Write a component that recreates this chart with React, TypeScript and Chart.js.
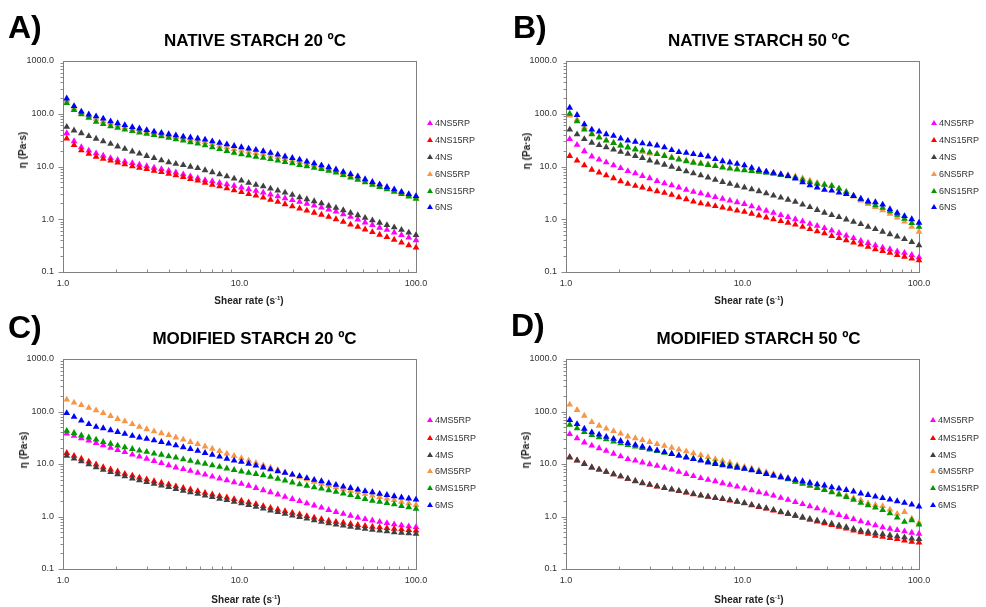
import React, { useEffect, useRef } from 'react';
import { Chart, registerables } from 'chart.js';

Chart.register(...registerables);

// Shear rate grid (s^-1), shared by all series
const SHEAR_RATE = [1.05, 1.155, 1.27, 1.40, 1.54, 1.69, 1.86, 2.04, 2.24, 2.47, 2.71, 2.98, 3.28, 3.61, 3.97, 4.36, 4.80, 5.27, 5.80, 6.38, 7.01, 7.71, 8.48, 9.32, 10.25, 11.27, 12.39, 13.63, 14.98, 16.48, 18.11, 19.92, 21.90, 24.08, 26.49, 29.12, 32.02, 35.21, 38.72, 42.57, 46.81, 51.47, 56.60, 62.23, 68.43, 75.25, 82.74, 90.98, 100];

// A) Native starch 20 ºC
const A_4NS5RP = [42.7, 30.2, 23.2, 20, 17.8, 16, 14.4, 13.3, 12.4, 11.6, 10.8, 10.1, 9.5, 8.9, 8.3, 7.7, 7.1, 6.5, 6.0, 5.5, 5.25, 4.9, 4.6, 4.3, 4.0, 3.7, 3.45, 3.2, 2.95, 2.72, 2.5, 2.3, 2.14, 1.97, 1.82, 1.66, 1.53, 1.40, 1.24, 1.11, 0.99, 0.87, 0.78, 0.69, 0.63, 0.56, 0.50, 0.45, 0.40];
const A_4NS15RP = [34, 25.4, 20.2, 17.4, 15.3, 14, 12.9, 11.9, 11.0, 10.1, 9.4, 8.9, 8.3, 7.85, 7.3, 6.8, 6.3, 5.8, 5.4, 4.9, 4.5, 4.2, 3.85, 3.55, 3.27, 3.0, 2.8, 2.57, 2.34, 2.14, 1.93, 1.76, 1.6, 1.46, 1.33, 1.22, 1.11, 1.0, 0.89, 0.79, 0.72, 0.64, 0.57, 0.51, 0.46, 0.41, 0.36, 0.32, 0.29];
const A_4NS = [56.6, 48.2, 42.7, 37.7, 33.6, 30, 26.9, 24, 21.6, 19.3, 17.6, 15.8, 14.4, 13.1, 12.0, 11.2, 10.6, 9.9, 9.3, 8.5, 7.8, 7.1, 6.5, 5.9, 5.4, 4.9, 4.5, 4.2, 3.8, 3.5, 3.2, 2.9, 2.6, 2.4, 2.2, 2.0, 1.8, 1.65, 1.48, 1.32, 1.19, 1.06, 0.955, 0.86, 0.775, 0.70, 0.63, 0.56, 0.50];
const A_6NS5RP = [177, 129, 104, 90, 80, 72, 65, 60, 55.5, 51.5, 48, 45.3, 42.7, 40.3, 38, 36, 34, 32.2, 30.6, 28.8, 26.6, 24.7, 23, 21.4, 20.1, 19.1, 18, 17, 16, 14.9, 13.9, 13, 12.1, 11.3, 10.5, 9.7, 9.0, 8.3, 7.4, 6.7, 6.05, 5.4, 4.8, 4.35, 3.9, 3.5, 3.15, 2.85, 2.6];
const A_6NS15RP = [160, 118, 98, 84, 70, 64, 58, 54, 50, 47, 44, 41.7, 39.4, 37.2, 35, 32.7, 30.9, 28.8, 27.2, 25.1, 23.2, 21.4, 19.7, 18.2, 17.0, 16.2, 15.3, 14.6, 13.8, 12.9, 12.2, 11.5, 10.7, 10.1, 9.4, 8.9, 8.3, 7.7, 6.9, 6.2, 5.6, 5.0, 4.5, 4.1, 3.7, 3.3, 3.0, 2.7, 2.45];
const A_6NS = [195, 140, 110, 97, 89, 81, 72, 66, 61, 56, 52.5, 49, 46, 43.5, 41, 39, 37, 35.5, 34, 32.4, 30, 28, 26.3, 24.5, 23.2, 21.9, 20.7, 19.5, 18.2, 16.8, 15.5, 14.5, 13.5, 12.4, 11.5, 10.5, 9.7, 8.8, 7.9, 7.2, 6.5, 5.75, 5.1, 4.6, 4.1, 3.7, 3.3, 3.0, 2.75];

// B) Native starch 50 ºC
const B_4NS5RP = [33, 25.7, 19.5, 15.5, 13.5, 12, 10.5, 9.3, 8.2, 7.4, 6.6, 6.0, 5.3, 4.8, 4.4, 4.0, 3.6, 3.3, 3.1, 2.85, 2.63, 2.45, 2.26, 2.1, 1.95, 1.76, 1.6, 1.45, 1.32, 1.2, 1.1, 1.0, 0.91, 0.82, 0.75, 0.68, 0.61, 0.55, 0.49, 0.44, 0.39, 0.355, 0.32, 0.29, 0.27, 0.245, 0.23, 0.21, 0.19];
const B_4NS15RP = [15.8, 12.9, 10.5, 8.7, 7.7, 6.8, 6.0, 5.25, 4.7, 4.3, 4.0, 3.7, 3.4, 3.16, 2.9, 2.6, 2.4, 2.16, 2.0, 1.9, 1.78, 1.66, 1.57, 1.46, 1.38, 1.27, 1.17, 1.08, 1.0, 0.92, 0.86, 0.79, 0.72, 0.65, 0.59, 0.54, 0.48, 0.44, 0.40, 0.36, 0.33, 0.30, 0.27, 0.25, 0.23, 0.21, 0.195, 0.18, 0.166];
const B_4NS = [50, 40.7, 33, 28.2, 25.4, 23.2, 20.9, 19, 17.4, 15.8, 14.5, 13, 11.9, 10.8, 9.9, 8.9, 8.1, 7.4, 6.8, 6.2, 5.6, 5.1, 4.7, 4.3, 4.0, 3.7, 3.4, 3.1, 2.8, 2.57, 2.34, 2.14, 1.9, 1.7, 1.5, 1.33, 1.2, 1.1, 0.99, 0.89, 0.81, 0.72, 0.65, 0.58, 0.52, 0.47, 0.42, 0.37, 0.32];
const B_6NS5RP = [92, 78, 55, 42, 36, 31.5, 28, 24.5, 22.5, 20.5, 19, 17.6, 17.5, 16.2, 15, 14, 13, 12.2, 11.6, 11, 10.4, 9.8, 9.3, 8.9, 8.6, 8.4, 8.2, 8.0, 7.6, 7.2, 6.9, 6.5, 6.0, 5.4, 4.9, 4.6, 4.3, 3.8, 3.25, 2.7, 2.25, 1.95, 1.7, 1.48, 1.27, 1.08, 0.9, 0.72, 0.58];
const B_6NS15RP = [100, 72, 50, 41, 35.5, 31, 27.9, 25.1, 23.2, 21.4, 20, 18.6, 17.2, 15.8, 14.6, 13.5, 12.6, 11.7, 11.2, 10.7, 10.2, 9.55, 9.1, 8.8, 8.5, 8.2, 7.95, 7.6, 7.25, 6.9, 6.5, 6.2, 5.6, 5.0, 4.7, 4.5, 4.3, 3.8, 3.3, 2.8, 2.4, 2.1, 1.84, 1.64, 1.41, 1.22, 1.02, 0.85, 0.72];
const B_6NS = [130, 95, 63, 50, 46, 41, 38, 34, 31, 29.5, 27.5, 26.3, 25, 23, 20.4, 18.8, 18.2, 17.2, 16.4, 15.5, 13.8, 12.6, 11.9, 11.2, 10.5, 9.4, 8.6, 8.0, 7.6, 7.1, 6.6, 5.9, 5.0, 4.4, 4.0, 3.6, 3.5, 3.2, 3.0, 2.75, 2.45, 2.2, 2.1, 1.9, 1.55, 1.32, 1.15, 1.0, 0.86];

// C) Modified starch 20 ºC
const C_4MS5RP = [38, 34.3, 31, 27.9, 25.1, 22.6, 20.4, 18.4, 16.8, 15.1, 13.8, 12.6, 11.4, 10.4, 9.4, 8.6, 8.0, 7.4, 6.8, 6.3, 5.75, 5.3, 4.9, 4.5, 4.2, 3.85, 3.5, 3.16, 2.9, 2.63, 2.37, 2.16, 1.97, 1.78, 1.62, 1.48, 1.33, 1.22, 1.12, 1.035, 0.955, 0.89, 0.84, 0.79, 0.75, 0.71, 0.68, 0.65, 0.63];
const C_4MS15RP = [16.2, 14.3, 12.6, 11.1, 9.8, 8.7, 7.85, 7.2, 6.5, 6.0, 5.5, 5.1, 4.7, 4.4, 4.1, 3.75, 3.5, 3.27, 3.05, 2.82, 2.63, 2.45, 2.3, 2.14, 2.0, 1.86, 1.72, 1.58, 1.46, 1.36, 1.26, 1.17, 1.1, 1.02, 0.955, 0.89, 0.83, 0.79, 0.76, 0.72, 0.69, 0.66, 0.64, 0.62, 0.6, 0.58, 0.57, 0.55, 0.54];
const C_4MS = [14.4, 12.7, 11.2, 9.9, 8.7, 7.75, 7.0, 6.4, 5.8, 5.3, 4.9, 4.55, 4.2, 3.9, 3.65, 3.35, 3.1, 2.9, 2.7, 2.5, 2.34, 2.18, 2.05, 1.9, 1.78, 1.66, 1.53, 1.41, 1.3, 1.21, 1.12, 1.04, 0.98, 0.91, 0.85, 0.79, 0.74, 0.70, 0.67, 0.64, 0.61, 0.58, 0.56, 0.54, 0.52, 0.50, 0.49, 0.48, 0.47];
const C_6MS5RP = [168, 148, 132, 117, 105, 93, 82, 72, 65, 57.5, 51, 46, 42, 38.5, 35.5, 32, 29.2, 26.3, 24, 21.6, 19.5, 17.6, 15.8, 14.3, 12.9, 11.6, 10.5, 9.4, 8.5, 7.7, 6.9, 6.2, 5.6, 5.1, 4.6, 4.2, 3.9, 3.6, 3.3, 3.1, 2.9, 2.7, 2.5, 2.35, 2.2, 2.05, 1.9, 1.78, 1.66];
const C_6MS15RP = [42.7, 39, 35, 32, 29.2, 26.3, 24.3, 22.4, 20.7, 19.3, 18, 17, 15.8, 15, 14, 13.2, 12.3, 11.5, 10.7, 10.1, 9.4, 8.8, 8.2, 7.7, 7.2, 6.8, 6.45, 6.1, 5.7, 5.25, 4.85, 4.45, 4.1, 3.85, 3.6, 3.4, 3.16, 2.95, 2.75, 2.55, 2.35, 2.16, 2.0, 1.9, 1.8, 1.7, 1.58, 1.5, 1.4];
const C_6MS = [93, 79, 67, 57.5, 51, 48, 44, 40.7, 37.6, 34.3, 32, 30.2, 28.2, 26.3, 24.5, 22.6, 20.9, 19.3, 17.8, 16.2, 15, 13.8, 12.6, 11.6, 11, 10.1, 9.3, 8.6, 7.9, 7.3, 6.8, 6.3, 5.9, 5.4, 5.0, 4.7, 4.3, 4.0, 3.7, 3.5, 3.25, 3.05, 2.9, 2.7, 2.57, 2.43, 2.3, 2.2, 2.1];

// D) Modified starch 50 ºC
const D_4MS5RP = [37, 31, 25.7, 22.4, 20, 17.8, 15.7, 14, 12.4, 11.6, 10.7, 9.9, 9.2, 8.5, 7.8, 7.1, 6.45, 5.9, 5.4, 5.0, 4.7, 4.3, 4.0, 3.7, 3.4, 3.16, 2.9, 2.7, 2.5, 2.26, 2.07, 1.88, 1.72, 1.57, 1.43, 1.3, 1.17, 1.07, 0.98, 0.89, 0.81, 0.74, 0.68, 0.62, 0.58, 0.55, 0.52, 0.49, 0.47];
const D_4MS15RP = [13.5, 11.7, 10.1, 8.6, 7.8, 7.1, 6.4, 5.8, 5.25, 4.7, 4.3, 4.0, 3.7, 3.5, 3.27, 3.05, 2.85, 2.66, 2.5, 2.37, 2.24, 2.14, 2.02, 1.9, 1.78, 1.64, 1.51, 1.41, 1.3, 1.2, 1.11, 1.02, 0.94, 0.87, 0.80, 0.74, 0.69, 0.64, 0.59, 0.54, 0.50, 0.47, 0.43, 0.41, 0.39, 0.37, 0.35, 0.33, 0.32];
const D_4MS = [13.3, 11.6, 10.0, 8.6, 7.8, 7.1, 6.4, 5.8, 5.25, 4.75, 4.35, 4.05, 3.75, 3.5, 3.3, 3.08, 2.88, 2.69, 2.53, 2.4, 2.27, 2.17, 2.05, 1.93, 1.81, 1.67, 1.54, 1.44, 1.33, 1.23, 1.14, 1.05, 0.97, 0.9, 0.84, 0.78, 0.73, 0.68, 0.63, 0.58, 0.54, 0.51, 0.48, 0.46, 0.44, 0.42, 0.4, 0.38, 0.37];
const D_6MS5RP = [135, 107, 83, 63, 53.7, 47.3, 42.2, 38, 33.5, 31, 28.5, 26.3, 24, 22.1, 20.4, 18.8, 17.4, 16, 14.8, 13.5, 12.4, 11.5, 10.6, 9.55, 8.8, 8.2, 7.6, 7.0, 6.45, 5.95, 5.45, 4.9, 4.4, 4.0, 3.6, 3.3, 3.0, 2.7, 2.5, 2.24, 2.05, 1.78, 1.66, 1.58, 1.35, 1.12, 1.22, 0.91, 0.76];
const D_6MS15RP = [56, 48, 40.7, 35.5, 32.4, 29.5, 26.9, 24.8, 22.9, 21.4, 20.2, 18.8, 17.6, 16.4, 15.5, 14.5, 13.5, 12.6, 11.9, 11.2, 10.6, 10, 9.4, 8.9, 8.2, 7.7, 7.1, 6.5, 6.0, 5.55, 5.1, 4.6, 4.2, 3.85, 3.5, 3.2, 2.9, 2.63, 2.34, 2.07, 1.82, 1.64, 1.48, 1.32, 1.15, 0.95, 0.79, 0.85, 0.7];
const D_6MS = [69, 57.5, 47, 40, 36.3, 33, 30.2, 27.5, 25.1, 23.2, 21.4, 19.7, 18.2, 16.8, 15.5, 14.5, 13.3, 12.4, 11.6, 10.7, 10, 9.4, 8.9, 8.5, 8.1, 7.6, 7.0, 6.45, 6.0, 5.6, 5.3, 5.0, 4.7, 4.4, 4.1, 3.9, 3.6, 3.4, 3.2, 3.0, 2.75, 2.57, 2.4, 2.24, 2.1, 1.95, 1.82, 1.68, 1.55];

const NATIVE_LABELS = ['4NS5RP', '4NS15RP', '4NS', '6NS5RP', '6NS15RP', '6NS'];
const MODIFIED_LABELS = ['4MS5RP', '4MS15RP', '4MS', '6MS5RP', '6MS15RP', '6MS'];
const SERIES_COLORS = ['#FF00FF', '#FF0000', '#404040', '#F79646', '#009A00', '#0000FF'];
const Y_TICK_VALUES = [0.1, 1, 10, 100, 1000];
const X_TICK_VALUES = [1, 10, 100];

const FONT = "'Liberation Sans', Arial, Helvetica, sans-serif";

const frameTicksPlugin = {
  id: 'frameTicks',
  beforeDatasetsDraw(chart: any) {
    const { ctx, chartArea: a, scales } = chart;
    const L = Math.round(a.left) + 0.5;
    const R = Math.round(a.right) + 0.5;
    const T = Math.round(a.top) + 0.5;
    const B = Math.round(a.bottom) + 0.5;
    ctx.save();
    ctx.strokeStyle = '#8a8a8a';
    ctx.lineWidth = 1;
    ctx.beginPath();
    for (let e = -1; e <= 2; e++) {
      for (let m = 1; m <= 9; m++) {
        const v = m * Math.pow(10, e);
        const py = Math.round(scales.y.getPixelForValue(v)) + 0.5;
        const len = m === 1 ? 5 : 3;
        ctx.moveTo(L - len, py);
        ctx.lineTo(L, py);
      }
    }
    for (let e = 0; e <= 1; e++) {
      for (let m = 2; m <= 9; m++) {
        const v = m * Math.pow(10, e);
        const px = Math.round(scales.x.getPixelForValue(v)) + 0.5;
        ctx.moveTo(px, B);
        ctx.lineTo(px, B - 3);
      }
    }
    ctx.stroke();
    ctx.strokeStyle = '#808080';
    ctx.strokeRect(L, T, R - L, B - T);
    ctx.restore();
  },
};

type PanelProps = {
  left: number;
  top: number;
  width: number;
  height: number;
  area: { l: number; t: number; r: number; b: number };
  series: number[][];
  labels: string[];
  letter: string;
  letterPos: [number, number];
  title: string;
  titlePos: [number, number];
  yTitlePos: [number, number];
  xTitlePos: [number, number];
  legendX: number;
  legendRows: number[];
};

function Panel(p: PanelProps) {
  const ref = useRef<HTMLCanvasElement | null>(null);
  useEffect(() => {
    if (!ref.current) return;
    const tickFont = { family: FONT, size: 9 };
    const chart = new Chart(ref.current, {
      type: 'scatter',
      data: {
        datasets: p.labels.map((label, i) => ({
          label,
          data: SHEAR_RATE.map((x, j) => ({ x, y: p.series[i][j] })),
          backgroundColor: SERIES_COLORS[i],
          borderColor: SERIES_COLORS[i],
          pointStyle: 'triangle',
          pointRadius: 3.9,
          pointBorderWidth: 0,
          showLine: false,
          order: p.labels.length - 1 - i,
          clip: false,
        })),
      },
      options: {
        responsive: false,
        animation: false,
        events: [],
        layout: { padding: { left: 0, top: p.area.t, right: p.width - p.area.r, bottom: 0 } },
        plugins: { legend: { display: false }, tooltip: { enabled: false }, title: { display: false } },
        scales: {
          x: {
            type: 'logarithmic',
            min: 1,
            max: 100,
            grid: { display: false, drawTicks: false },
            border: { display: false },
            afterBuildTicks: (s: any) => {
              s.ticks = X_TICK_VALUES.map((v) => ({ value: v }));
            },
            afterFit: (s: any) => {
              s.height = p.height - p.area.b;
            },
            ticks: {
              autoSkip: false,
              maxRotation: 0,
              padding: 6,
              color: '#333',
              font: tickFont,
              callback: (v: any) => Number(v).toFixed(1),
            },
          },
          y: {
            type: 'logarithmic',
            min: 0.1,
            max: 1000,
            grid: { display: false, drawTicks: false },
            border: { display: false },
            afterBuildTicks: (s: any) => {
              s.ticks = Y_TICK_VALUES.map((v) => ({ value: v }));
            },
            afterFit: (s: any) => {
              s.width = p.area.l;
            },
            ticks: {
              autoSkip: false,
              padding: 9,
              color: '#333',
              font: tickFont,
              callback: (v: any) => Number(v).toFixed(1),
            },
          },
        },
      } as any,
      plugins: [frameTicksPlugin],
    });
    return () => chart.destroy();
  }, []);

  const abs: React.CSSProperties = { position: 'absolute', whiteSpace: 'nowrap', fontFamily: FONT };
  return (
    <>
      <canvas
        ref={ref}
        width={p.width}
        height={p.height}
        style={{ position: 'absolute', left: p.left, top: p.top, width: p.width, height: p.height }}
      />
      <div style={{ ...abs, left: p.letterPos[0], top: p.letterPos[1], fontSize: 32, lineHeight: '32px', fontWeight: 700, color: '#000' }}>
        {p.letter}
      </div>
      <div style={{ ...abs, left: p.titlePos[0], top: p.titlePos[1], transform: 'translateX(-50%)', fontSize: 17, lineHeight: '17px', fontWeight: 700, color: '#000' }}>
        {p.title}
      </div>
      <div style={{ ...abs, left: p.yTitlePos[0], top: p.yTitlePos[1], transform: 'translate(-50%, -50%) rotate(-90deg)', fontSize: 10, lineHeight: '12px', fontWeight: 700, color: '#222' }}>
        η (Pa·s)
      </div>
      <div style={{ ...abs, left: p.xTitlePos[0], top: p.xTitlePos[1], transform: 'translate(-50%, -50%)', fontSize: 10, lineHeight: '12px', fontWeight: 700, color: '#222' }}>
        Shear rate (s<sup style={{ fontSize: 6, lineHeight: 0 }}>-1</sup>)
      </div>
      {p.labels.map((label, i) => (
        <React.Fragment key={label}>
          <div
            style={{
              position: 'absolute',
              left: p.legendX - 3,
              top: p.legendRows[i] - 3,
              width: 0,
              height: 0,
              borderLeft: '3px solid transparent',
              borderRight: '3px solid transparent',
              borderBottom: `5px solid ${SERIES_COLORS[i]}`,
            }}
          />
          <div style={{ ...abs, left: p.legendX + 5, top: p.legendRows[i] - 6, fontSize: 9, lineHeight: '12px', color: '#333' }}>
            {label}
          </div>
        </React.Fragment>
      ))}
    </>
  );
}

const ROWS_TOP = [123, 140, 157, 174, 190.5, 207];
const ROWS_BOTTOM = [420, 437.5, 454.5, 471, 487.5, 505];

export default function App() {
  return (
    <div style={{ position: 'absolute', left: 0, top: 0, width: 986, height: 607, background: '#fff', overflow: 'hidden' }}>
      <Panel
        left={0} top={0} width={493} height={303}
        area={{ l: 63, t: 61, r: 416, b: 272 }}
        series={[A_4NS5RP, A_4NS15RP, A_4NS, A_6NS5RP, A_6NS15RP, A_6NS]}
        labels={NATIVE_LABELS}
        letter="A)" letterPos={[8, 11]}
        title="NATIVE STARCH 20 ºC" titlePos={[255, 32]}
        yTitlePos={[23, 150]} xTitlePos={[249, 301]}
        legendX={430} legendRows={ROWS_TOP}
      />
      <Panel
        left={493} top={0} width={493} height={303}
        area={{ l: 73, t: 61, r: 426, b: 272 }}
        series={[B_4NS5RP, B_4NS15RP, B_4NS, B_6NS5RP, B_6NS15RP, B_6NS]}
        labels={NATIVE_LABELS}
        letter="B)" letterPos={[513, 11]}
        title="NATIVE STARCH 50 ºC" titlePos={[759, 32]}
        yTitlePos={[527, 151]} xTitlePos={[749, 301]}
        legendX={934} legendRows={ROWS_TOP}
      />
      <Panel
        left={0} top={303} width={493} height={304}
        area={{ l: 63, t: 56, r: 416, b: 266 }}
        series={[C_4MS5RP, C_4MS15RP, C_4MS, C_6MS5RP, C_6MS15RP, C_6MS]}
        labels={MODIFIED_LABELS}
        letter="C)" letterPos={[8, 311]}
        title="MODIFIED STARCH 20 ºC" titlePos={[254.5, 330]}
        yTitlePos={[23.5, 449.5]} xTitlePos={[246, 600]}
        legendX={430} legendRows={ROWS_BOTTOM}
      />
      <Panel
        left={493} top={303} width={493} height={304}
        area={{ l: 73, t: 56, r: 426, b: 266 }}
        series={[D_4MS5RP, D_4MS15RP, D_4MS, D_6MS5RP, D_6MS15RP, D_6MS]}
        labels={MODIFIED_LABELS}
        letter="D)" letterPos={[511, 309]}
        title="MODIFIED STARCH 50 ºC" titlePos={[758.5, 330]}
        yTitlePos={[526, 449.5]} xTitlePos={[749, 600]}
        legendX={933} legendRows={ROWS_BOTTOM}
      />
    </div>
  );
}
